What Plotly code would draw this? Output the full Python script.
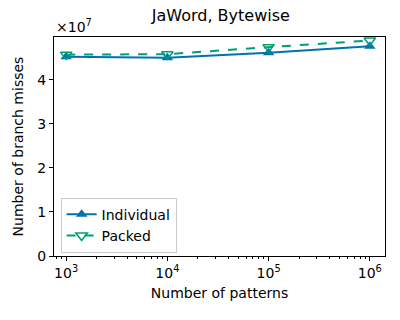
import plotly.graph_objects as go

patterns = [1e3, 1e4, 1e5, 1e6]
individual = [4.52e7, 4.50e7, 4.61e7, 4.76e7]
packed = [4.57e7, 4.58e7, 4.74e7, 4.89e7]
xtick_vals = [1e3, 1e4, 1e5, 1e6]
xtick_text = ["10<sup>3</sup>", "10<sup>4</sup>", "10<sup>5</sup>", "10<sup>6</sup>"]
ytick_vals = [0, 1e7, 2e7, 3e7, 4e7]
ytick_text = ["0", "1", "2", "3", "4"]
minor_vals = [m * 10 ** e for e in range(2, 7) for m in range(2, 10)]

fig = go.Figure()
fig.add_trace(go.Scatter(
    x=patterns, y=individual, name="Individual", mode="lines+markers",
    line=dict(color="#0072B2", width=2),
    marker=dict(symbol="triangle-up", size=10, color="#0072B2")))
fig.add_trace(go.Scatter(
    x=patterns, y=packed, name="Packed", mode="lines+markers",
    line=dict(color="#009E73", width=2, dash="dash"),
    marker=dict(symbol="triangle-down-open", size=10, color="#009E73", line=dict(width=1.5))))

font = "DejaVu Sans, sans-serif"
fig.update_layout(
    width=400, height=320,
    margin=dict(l=54, r=15, t=37, b=64, autoexpand=False),
    paper_bgcolor="white", plot_bgcolor="white",
    font=dict(family=font, size=14, color="black"),
    title=dict(text="JaWord, Bytewise", x=0.552, xanchor="center", y=0.953, yanchor="middle",
               font=dict(size=16)),
    legend=dict(x=0.02, y=0.015, xanchor="left", yanchor="bottom",
                bordercolor="#cccccc", borderwidth=1, bgcolor="rgba(255,255,255,0.8)",
                font=dict(size=14), tracegroupgap=0, itemwidth=30),
    showlegend=True,
)
fig.update_xaxes(
    type="log", range=[2.88, 6.15], automargin=False,
    tickvals=xtick_vals, ticktext=xtick_text,
    ticks="outside", ticklen=4, tickcolor="black",
    minor=dict(tickvals=minor_vals, ticks="outside", ticklen=2, tickcolor="black", showgrid=False),
    showline=True, linecolor="black", linewidth=1, mirror=True, showgrid=False,
    title=dict(text="Number of patterns", font=dict(size=14), standoff=8),
    tickfont=dict(size=14))
fig.update_yaxes(
    range=[0, 4.97e7], tickvals=ytick_vals, ticktext=ytick_text, automargin=False,
    ticks="outside", ticklen=4, tickcolor="black",
    showline=True, linecolor="black", linewidth=1, mirror=True, showgrid=False,
    zeroline=False,
    title=dict(text="Number of branch misses", font=dict(size=14), standoff=10),
    tickfont=dict(size=14))
fig.add_annotation(text="×10<sup>7</sup>", xref="paper", yref="paper", x=0, y=1.0,
                   xanchor="left", yanchor="bottom", showarrow=False, font=dict(size=14))
fig.write_html("out.html", config={"displayModeBar": False},
               post_script="document.body.style.margin='0';")
